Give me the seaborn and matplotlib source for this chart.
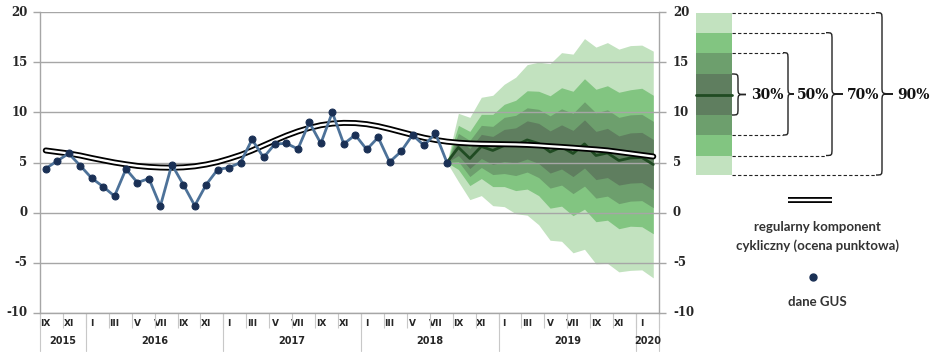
#importing the necessary libraries for the workflow.
import numpy as np
import pandas as pd
import seaborn as sns
import matplotlib.pyplot as plt
from matplotlib.path import Path
from matplotlib.patches import PathPatch, Rectangle

# months Sep 2015 .. Feb 2020
roman = ["I", "II", "III", "IV", "V", "VI", "VII", "VIII", "IX", "X", "XI", "XII"]
month_labels = roman[8:] + roman * 4 + roman[:2]
years = ["2015", "2016", "2017", "2018", "2019", "2020"]
months_per_year = [4, 12, 12, 12, 12, 2]
yt = [-10, -5, 0, 5, 10, 15, 20]

# dane GUS (Sep 2015 .. Aug 2018)
gus = [4.4, 5.15, 5.9, 4.7, 3.45, 2.6, 1.65, 4.35, 3.0, 3.4,
       0.65, 4.8, 2.8, 0.7, 2.8, 4.3, 4.5, 5.0, 7.3, 5.5,
       6.85, 6.9, 6.35, 9.0, 6.9, 10.0, 6.85, 7.75, 6.3, 7.5,
       5.05, 6.1, 7.75, 6.7, 7.9, 5.0]

# regularny komponent cykliczny (whole period)
trend = [6.2, 6.05, 5.9, 5.7, 5.45, 5.22, 5.0, 4.82, 4.66, 4.56,
         4.5, 4.48, 4.52, 4.62, 4.8, 5.05, 5.38, 5.75, 6.2, 6.7,
         7.2, 7.68, 8.1, 8.45, 8.72, 8.88, 8.95, 8.93, 8.82, 8.62,
         8.35, 8.05, 7.75, 7.47, 7.25, 7.08, 6.97, 6.9, 6.86, 6.84,
         6.82, 6.8, 6.76, 6.7, 6.62, 6.55, 6.47, 6.38, 6.3, 6.2,
         6.05, 5.9, 5.75, 5.6]

# forecast centre (Aug 2018 .. Feb 2020) and half widths of the fan
forecast = [5.0, 6.5, 5.4, 6.6, 6.2, 6.7, 6.7, 7.25, 6.9, 6.05,
            6.55, 5.9, 6.85, 5.7, 5.95, 5.2, 5.45, 5.5, 4.8]
hw90 = [0, 3.4, 4.1, 4.9, 5.5, 6.1, 6.8, 7.5, 8.1, 8.8, 9.4, 9.9, 10.5, 10.8, 11.0, 11.1, 11.2, 11.2, 11.3]
hw70 = [0, 2.2, 2.7, 3.2, 3.6, 4.1, 4.5, 4.9, 5.2, 5.6, 5.9, 6.2, 6.5, 6.6, 6.7, 6.8, 6.8, 6.9, 6.9]
hw50 = [0, 1.4, 1.8, 2.1, 2.4, 2.8, 3.0, 3.2, 3.4, 3.6, 3.8, 4.0, 4.2, 4.25, 4.3, 4.3, 4.3, 4.3, 4.3]
hw30 = [0, 0.8, 1.0, 1.2, 1.4, 1.6, 1.75, 1.9, 2.0, 2.1, 2.2, 2.3, 2.4, 2.4, 2.45, 2.45, 2.5, 2.5, 2.5]
fc_start = 35

c90, c70, c50, c30 = "#c2e2bf", "#82c581", "#6d9f6d", "#5f7e5f"
fc_col = "#204b22"
blue_line = "#4d7299"
blue_dot = "#1a3055"
grid_col = "#a6a6a6"

df_gus = pd.DataFrame({"t": np.arange(len(gus)), "val": gus})
df_trend = pd.DataFrame({"t": np.arange(len(trend)), "val": trend})
df_fc = pd.DataFrame({"t": np.arange(len(forecast)) + fc_start, "val": forecast,
                      "hw90": hw90, "hw70": hw70, "hw50": hw50, "hw30": hw30})

sns.set_style("white")
plt.rcParams['font.family'] = ['DejaVu Sans']

fig = plt.figure(figsize=(9.45, 3.57), dpi=100)
ax = fig.add_axes([40 / 945, 1 - 313 / 357, 619 / 945, 301 / 357])

# fan chart
for col, c in [("hw90", c90), ("hw70", c70), ("hw50", c50), ("hw30", c30)]:
    ax.fill_between(df_fc["t"], df_fc["val"] - df_fc[col], df_fc["val"] + df_fc[col],
                    color=c, lw=0, zorder=0.3)
sns.lineplot(data=df_fc, x="t", y="val", color=fc_col, lw=2, ax=ax, zorder=2)

# double line for the cyclical component
sns.lineplot(data=df_trend, x="t", y="val", color="black", lw=4.3, ax=ax, zorder=3)
sns.lineplot(data=df_trend, x="t", y="val", color="white", lw=1.7, ax=ax, zorder=3.1)

# GUS data
sns.lineplot(data=df_gus, x="t", y="val", color=blue_line, lw=2, marker="o", markersize=5,
             markerfacecolor=blue_dot, markeredgecolor=blue_dot, ax=ax, zorder=4)

ax.set_xlim(-0.5, len(trend) - 0.5)
ax.set_ylim(-10, 20)
ax.set_xlabel("")
ax.set_ylabel("")
ax.set_axisbelow(True)
ax.grid(axis="y", color=grid_col, lw=1)
ax.grid(axis="x", visible=False)
for s in ["left", "right", "bottom"]:
    ax.spines[s].set_visible(True)
    ax.spines[s].set_color(grid_col)
    ax.spines[s].set_linewidth(1)
ax.spines["top"].set_visible(False)

# y axis on both sides: tick marks from matplotlib, numbers as bold serif text
ax.set_yticks(yt)
ax.tick_params(axis="y", left=True, right=True, labelleft=False, labelright=False,
               direction="out", length=5, width=1, color=grid_col)
for v in yt:
    ax.annotate(str(v), xy=(0, v), xycoords=("axes fraction", "data"), xytext=(-9, 0),
                textcoords="offset points", ha="right", va="center",
                family="DejaVu Serif", fontweight="bold", fontsize=8.5)
    ax.annotate(str(v), xy=(1, v), xycoords=("axes fraction", "data"), xytext=(10, 0),
                textcoords="offset points", ha="left", va="center",
                family="DejaVu Serif", fontweight="bold", fontsize=8.5)

# x axis: roman months + years
odd_pos = list(range(0, len(month_labels), 2))
ax.set_xticks(odd_pos)
ax.set_xticklabels([month_labels[i] for i in odd_pos], fontsize=6.5, fontweight="bold")
ax.set_xticks(np.arange(-0.5, len(month_labels), 2), minor=True)
ax.tick_params(axis="x", which="major", length=0, pad=4)
ax.tick_params(axis="x", which="minor", bottom=True, length=11, width=0.8, color="#c8c8c8", direction="out")

start = 0
for y, n in zip(years, months_per_year):
    ax.annotate(y, xy=(start + n / 2 - 0.5, 0), xycoords=("data", "axes fraction"),
                xytext=(0, -20), textcoords="offset points", ha="center", va="center",
                fontsize=7, fontweight="bold")
    ax.plot([start - 0.5, start - 0.5], [0, -0.125], transform=ax.get_xaxis_transform(),
            color="#c8c8c8", lw=0.8, clip_on=False)
    start += n
ax.plot([start - 0.5, start - 0.5], [0, -0.125], transform=ax.get_xaxis_transform(),
        color="#c8c8c8", lw=0.8, clip_on=False)

# legend drawn in pixel coordinates
lax = fig.add_axes([0, 0, 1, 1])
lax.set_xlim(0, 945)
lax.set_ylim(357, 0)
lax.axis("off")

sw_x, sw_w = 696, 36
bands = [(12.5, 33, c90), (33, 53, c70), (53, 74, c50), (74, 115, c30),
         (115, 135, c50), (135, 156, c70), (156, 175, c90)]
for y0, y1, c in bands:
    lax.add_patch(Rectangle((sw_x, y0), sw_w, y1 - y0, color=c, lw=0))
lax.plot([sw_x, sw_x + sw_w], [95, 95], color=fc_col, lw=2)


def brace(x, xv, xt, top, bottom):
    # curly brace opening to the right: ends at x, spine at xv, tip at xt
    mid = (top + bottom) / 2
    r = 7
    verts = [(x, top), (xv, top), (xv, top), (xv, top + r),
             (xv, mid - r),
             (xv, mid), (xv, mid), (xt, mid),
             (xv, mid), (xv, mid), (xv, mid + r),
             (xv, bottom - r),
             (xv, bottom), (xv, bottom), (x, bottom)]
    codes = [Path.MOVETO, Path.CURVE4, Path.CURVE4, Path.CURVE4,
             Path.LINETO,
             Path.CURVE4, Path.CURVE4, Path.CURVE4,
             Path.CURVE4, Path.CURVE4, Path.CURVE4,
             Path.LINETO,
             Path.CURVE4, Path.CURVE4, Path.CURVE4]
    lax.add_patch(PathPatch(Path(verts, codes), fill=False, ec="#222222", lw=1))


sx = sw_x + sw_w
braces = [("30%", sx, 738, 746, 74, 115, 751),
          ("50%", 783, 788, 794, 52.7, 135, 797),
          ("70%", 826, 832, 843, 32.7, 155.5, 847),
          ("90%", 876, 882, 893, 12.7, 175, 897)]
for lab, bx, bv, bt, top, bot, tx in braces:
    if bx > sx:
        lax.plot([sx, bx], [top, top], color="#222222", lw=0.8, ls=(0, (3, 2)))
        lax.plot([sx, bx], [bot, bot], color="#222222", lw=0.8, ls=(0, (3, 2)))
    brace(bx, bv, bt, top, bot)
    lax.text(tx, 95, lab, ha="left", va="center", fontsize=10, family="DejaVu Serif",
             fontweight="bold", color="#111111")

lax.plot([788, 832], [199.5, 199.5], color="black", lw=4.3, solid_capstyle="butt")
lax.plot([788, 832], [199.5, 199.5], color="white", lw=1.7, solid_capstyle="butt")
lax.text(817, 227, "regularny komponent", ha="center", va="center", fontsize=9.5,
         family="Lato", fontweight="bold", color="#333333")
lax.text(817, 246, "cykliczny (ocena punktowa)", ha="center", va="center", fontsize=9.5,
         family="Lato", fontweight="bold", color="#333333")
lax.plot([813], [277], marker="o", markersize=5, color=blue_dot)
lax.text(817, 302, "dane GUS", ha="center", va="center", fontsize=9.5,
         family="Lato", fontweight="bold", color="#333333")

fig.savefig("out.png", dpi=100)
